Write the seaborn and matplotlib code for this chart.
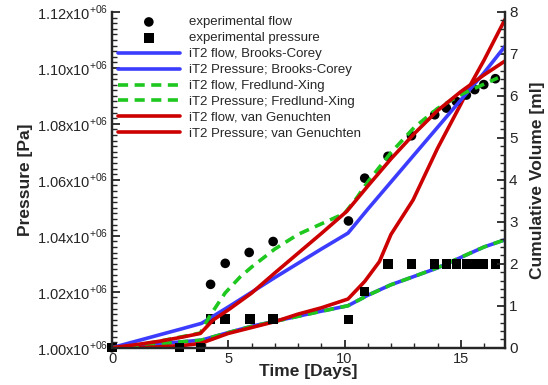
import numpy as np
import pandas as pd
import seaborn as sns
import matplotlib.pyplot as plt
from matplotlib.ticker import MultipleLocator, FuncFormatter

sns.set_style('ticks')
plt.rcParams['font.family'] = ['Liberation Sans', 'DejaVu Sans']
plt.rcParams['mathtext.fontset'] = 'custom'
plt.rcParams['mathtext.rm'] = 'Liberation Sans'

# experimental data
exp_flow_days = [0, 4.24, 4.87, 5.9, 6.93, 10.17, 10.87, 11.87, 12.88, 13.88, 14.38, 14.81, 15.24, 15.6, 15.99, 16.49]
exp_flow_ml = [0, 1.51, 2.01, 2.27, 2.53, 3.02, 4.04, 4.56, 5.05, 5.55, 5.71, 5.87, 6.02, 6.15, 6.27, 6.41]
exp_pres_days = [0, 2.9, 3.8, 4.24, 4.86, 5.93, 6.93, 10.17, 10.87, 11.87, 12.88, 13.88, 14.38, 14.81, 15.24, 15.6, 15.99, 16.49]
exp_pres_pa = [1.0e6, 1.0e6, 1.0e6, 1.0103e6, 1.0103e6, 1.0103e6, 1.0103e6, 1.0101e6, 1.0200e6,
               1.0299e6, 1.0299e6, 1.0299e6, 1.0299e6, 1.0299e6, 1.0299e6, 1.0299e6, 1.0299e6, 1.0299e6]

# iT2 simulations: flow (ml)
bc_flow_days = [0, 1, 2, 3, 3.85, 5, 6, 7, 8, 9, 10.15, 11, 12, 13, 14, 15, 16, 16.9]
bc_flow_ml = [0, 0.15, 0.3, 0.45, 0.58, 0.97, 1.32, 1.67, 2.01, 2.35, 2.73, 3.3, 3.95, 4.6, 5.25, 5.9, 6.55, 7.18]
fx_flow_days = [0, 1, 2, 3, 3.8, 4.2, 4.86, 5.5, 6, 7, 8, 9, 10, 10.5, 11, 12, 13, 14, 15, 16, 16.6]
fx_flow_ml = [0, 0.05, 0.15, 0.26, 0.35, 0.75, 1.3, 1.68, 1.92, 2.35, 2.7, 2.95, 3.2, 3.55, 3.95, 4.65, 5.25, 5.7, 6.03, 6.28, 6.43]
vg_flow_days = [0, 1, 2, 3, 3.8, 4.35, 5, 6, 7, 8, 9, 10.1, 11, 12, 13, 14, 15, 16, 16.9]
vg_flow_ml = [0, 0.07, 0.15, 0.25, 0.34, 0.66, 0.9, 1.3, 1.78, 2.25, 2.72, 3.25, 3.85, 4.5, 5.1, 5.65, 6.1, 6.5, 6.83]

# iT2 simulations: pressure (Pa)
bc_pres_days = [0, 1, 2, 3, 3.85, 5, 6, 7, 8, 9, 10.15, 11, 12, 13, 14, 15, 16, 16.9]
bc_pres_pa = [1.0e6, 1.0006e6, 1.00135e6, 1.0021e6, 1.0027e6, 1.0054e6, 1.00765e6, 1.00945e6, 1.01125e6,
              1.01305e6, 1.015e6, 1.01875e6, 1.0225e6, 1.0255e6, 1.0285e6, 1.03225e6, 1.036e6, 1.03855e6]
fx_pres_days = bc_pres_days
fx_pres_pa = [1.0e6, 1.0005e6, 1.0013e6, 1.0021e6, 1.0027e6, 1.0054e6, 1.0076e6, 1.0094e6, 1.0112e6,
              1.0130e6, 1.0150e6, 1.0187e6, 1.0225e6, 1.0255e6, 1.0286e6, 1.0323e6, 1.0360e6, 1.0386e6]
vg_pres_days = [0, 1, 2, 3, 3.8, 5, 6, 7, 8, 9, 10.15, 10.87, 11.5, 12, 12.95, 14, 15, 15.46, 16, 16.9]
vg_pres_pa = [1.0e6, 1.0e6, 1.0003e6, 1.00075e6, 1.0015e6, 1.0051e6, 1.0072e6, 1.0093e6, 1.012e6, 1.01425e6,
              1.0174e6, 1.0237e6, 1.03075e6, 1.0405e6, 1.0528e6, 1.07125e6, 1.087e6, 1.09465e6, 1.10275e6, 1.1173e6]

blue = '#3c3cff'
green = '#1ec81e'
red = '#cc0000'
lw = 2.6
dash = (0, (2.8, 1.8))

fig = plt.figure(figsize=(5.48, 3.85), dpi=100)
ax = fig.add_axes([0.2044, 0.0969, 0.717, 0.872])
ax2 = ax.twinx()

# pressure on the left axis
sns.scatterplot(x=exp_pres_days, y=exp_pres_pa, ax=ax, marker='s', s=46, color='black',
                edgecolor='none', label='experimental pressure', zorder=3, clip_on=False)
sns.lineplot(x=bc_pres_days, y=bc_pres_pa, ax=ax, color=blue, lw=lw, label='iT2 Pressure; Brooks-Corey')
sns.lineplot(x=fx_pres_days, y=fx_pres_pa, ax=ax, color=green, lw=lw, linestyle=dash,
             label='iT2 Pressure; Fredlund-Xing')
sns.lineplot(x=vg_pres_days, y=vg_pres_pa, ax=ax, color=red, lw=lw, label='iT2 Pressure; van Genuchten')

# flow on the right axis
sns.scatterplot(x=exp_flow_days, y=exp_flow_ml, ax=ax2, marker='o', s=48, color='black',
                edgecolor='none', label='experimental flow', zorder=1, clip_on=False)
sns.lineplot(x=bc_flow_days, y=bc_flow_ml, ax=ax2, color=blue, lw=lw, label='iT2 flow, Brooks-Corey')
sns.lineplot(x=fx_flow_days, y=fx_flow_ml, ax=ax2, color=green, lw=lw, linestyle=dash,
             label='iT2 flow, Fredlund-Xing')
sns.lineplot(x=vg_flow_days, y=vg_flow_ml, ax=ax2, color=red, lw=lw, label='iT2 flow, van Genuchten')

ax.set_xlim(0, 16.9)
ax.set_ylim(1.0e6, 1.12e6)
ax2.set_ylim(0, 8)

ax.xaxis.set_major_locator(MultipleLocator(5))
ax.xaxis.set_minor_locator(MultipleLocator(1))
ax.yaxis.set_major_locator(MultipleLocator(20000))
ax.yaxis.set_minor_locator(MultipleLocator(2000))
ax.yaxis.set_major_formatter(FuncFormatter(lambda v, p: f'{v / 1e6:.2f}x10$^{{+06}}$'))
ax2.yaxis.set_major_locator(MultipleLocator(1))
ax2.yaxis.set_minor_locator(MultipleLocator(0.2))

for a in (ax, ax2):
    a.spines['top'].set_visible(False)
    for s in ('left', 'right', 'bottom'):
        a.spines[s].set_linewidth(1.6)
    a.tick_params(which='major', direction='in', length=6, width=1.3, labelsize=10.5, pad=3)
    a.tick_params(which='minor', direction='in', length=3.5, width=1.0)
ax2.tick_params(axis='y', labelsize=11)

ax.set_xlabel('Time [Days]', fontsize=12.5, fontweight='bold', labelpad=-1)
ax.set_ylabel('Pressure [Pa]', fontsize=12.5, fontweight='bold', labelpad=3)
ax2.set_ylabel('Cumulative Volume [ml]', fontsize=12.5, fontweight='bold', rotation=90, labelpad=9)

h1, l1 = ax.get_legend_handles_labels()
h2, l2 = ax2.get_legend_handles_labels()
handles = dict(zip(l1 + l2, h1 + h2))
order = ['experimental flow', 'experimental pressure',
         'iT2 flow, Brooks-Corey', 'iT2 Pressure; Brooks-Corey',
         'iT2 flow, Fredlund-Xing', 'iT2 Pressure; Fredlund-Xing',
         'iT2 flow, van Genuchten', 'iT2 Pressure; van Genuchten']
ax.get_legend().remove()
ax2.get_legend().remove()
leg = ax2.legend([handles[k] for k in order], order, loc='upper left',
                 bbox_to_anchor=(0.215, 0.958), bbox_transform=fig.transFigure,
                 frameon=False, fontsize=9.5, handlelength=4.7, handletextpad=0.7,
                 labelspacing=0.28, borderaxespad=0, borderpad=0)

fig.savefig('out.png', dpi=100)
